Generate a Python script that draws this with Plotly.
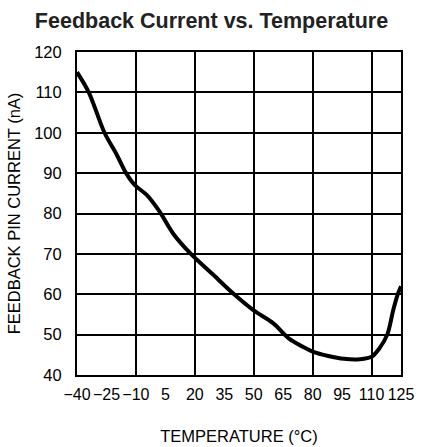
import plotly.graph_objects as go

# Curve
temperature = [-40, -34, -26, -20, -15, -10.5, -4.5, 2, 9, 18, 29, 40, 50, 60, 68,
               75, 80, 88, 96, 104, 110, 114, 118, 121, 123, 125]
fb_current = [115, 110, 100, 94.8, 90, 87, 84.6, 80.5, 75, 70, 65, 60, 56, 52.8, 49,
              47, 45.8, 44.7, 44, 43.9, 44.5, 46.6, 50, 56, 59.5, 62]

x_ticks = [-40, -25, -10, 5, 20, 35, 50, 65, 80, 95, 110, 125]

sans = "Liberation Sans, Arial, Helvetica, sans-serif"

fig = go.Figure()
fig.add_trace(go.Scatter(
    x=temperature, y=fb_current, mode="lines",
    line={"color": "black", "width": 4, "shape": "spline", "smoothing": 0.9},
    showlegend=False, hoverinfo="skip",
))
# invisible trace so the labelled overlay axis gets drawn
fig.add_trace(go.Scatter(x=[x_ticks[0]], y=[fb_current[0]], xaxis="x2",
                         mode="markers", marker={"opacity": 0}, showlegend=False,
                         hoverinfo="skip"))

fig.update_layout(
    width=423,
    height=447,
    margin={"l": 77, "r": 22, "t": 52, "b": 72, "autoexpand": False},
    paper_bgcolor="white",
    plot_bgcolor="white",
    title={
        "text": "<b>Feedback Current vs. Temperature</b>",
        "x": 0.5, "xref": "container", "xanchor": "center",
        "y": 1 - 20 / 447, "yanchor": "middle",
        "font": {"family": sans, "size": 21.5, "color": "#222"},
    },
    # grid axis: lines every 30 degC, no labels
    xaxis={
        "range": [-40, 125], "tick0": -40, "dtick": 30,
        "showticklabels": False, "ticks": "",
        "showgrid": True, "gridcolor": "black", "gridwidth": 1.5,
        "showline": True, "linecolor": "black", "linewidth": 2, "mirror": True,
        "zeroline": False,
    },
    # labelled axis: every 15 degC
    xaxis2={
        "overlaying": "x", "matches": "x", "side": "bottom",
        "tickvals": x_ticks, "ticks": "", "tickangle": 0,
        "showgrid": False, "zeroline": False, "automargin": False,
        "ticklabelstandoff": 8,
        "tickfont": {"family": sans, "size": 16, "color": "black"},
        "title": {"text": "TEMPERATURE (°C)", "standoff": 28,
                  "font": {"family": sans, "size": 16.5, "color": "black"}},
    },
    yaxis={
        "range": [40, 120], "dtick": 10, "ticks": "",
        "showgrid": True, "gridcolor": "black", "gridwidth": 1.5,
        "showline": True, "linecolor": "black", "linewidth": 2, "mirror": True,
        "zeroline": False, "automargin": False, "ticklabelstandoff": 10,
        "tickfont": {"family": sans, "size": 16.5, "color": "black"},
        "title": {"text": "FEEDBACK PIN CURRENT (nA)", "standoff": 9,
                  "font": {"family": sans, "size": 16.5, "color": "black"}},
    },
)

# the page's default 8px body margin would push the figure off-window
fig.write_html("out.html", config={"displayModeBar": False},
               post_script="document.body.style.margin='0';")
